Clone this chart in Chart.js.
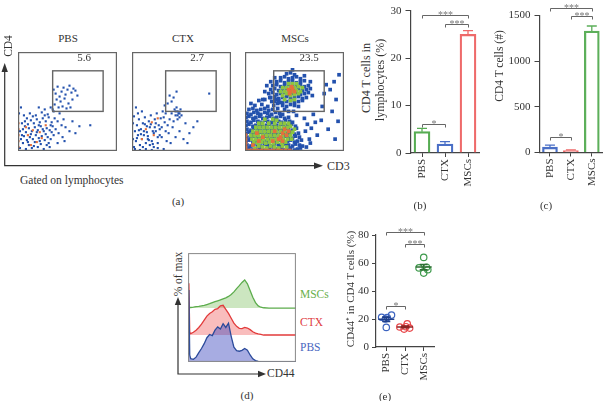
<!DOCTYPE html>
<html><head><meta charset="utf-8">
<script src="https://cdn.jsdelivr.net/npm/chart.js@4/dist/chart.umd.min.js"></script>
<style>
html,body{margin:0;padding:0;background:#fff;width:607px;height:401px;overflow:hidden;}
#wrap{position:relative;width:607px;height:401px;font-family:"Liberation Serif","Times New Roman",serif;color:#333;}
canvas{position:absolute;}
svg{position:absolute;left:0;top:0;}
.t{position:absolute;white-space:nowrap;transform:translate(-50%,-50%);font-size:11px;line-height:1;}
.l{transform:translate(0,-50%);}
.r{transform:translate(-50%,-50%) rotate(-90deg);}
</style></head><body>
<div id="wrap">
<svg width="607" height="401">
  <polyline points="4.7,70 4.7,165.7 316,165.7" fill="none" stroke="#333" stroke-width="1.2"/>
  <polygon points="4.7,63 1.5,72 7.9,72" fill="#333"/>
  <polygon points="323,165.7 314,162.5 314,168.9" fill="#333"/>
  <polyline points="178,304 178,374 259,374" fill="none" stroke="#333" stroke-width="1.2"/>
  <polygon points="178,297 174.8,305 181.2,305" fill="#333"/>
  <polygon points="266,374 258,370.8 258,377.2" fill="#333"/>
</svg>
<canvas id="fa1" width="107" height="107" style="left:14px;top:48px"></canvas>
<canvas id="fa2" width="107" height="107" style="left:128px;top:48px"></canvas>
<canvas id="fa3" width="107" height="107" style="left:241px;top:48px"></canvas>
<canvas id="cb" width="100" height="200" style="left:385px;top:0px"></canvas>
<canvas id="cc" width="102" height="200" style="left:505px;top:0px"></canvas>
<canvas id="cd" width="108" height="109" style="left:188px;top:253px"></canvas>
<canvas id="ce" width="90" height="180" style="left:355px;top:220px"></canvas>

<div class="t" style="left:68px;top:38px;font-size:11px">PBS</div>
<div class="t" style="left:183px;top:38px;font-size:11px">CTX</div>
<div class="t" style="left:295px;top:38px;font-size:11px">MSCs</div>
<div class="t" style="left:84px;top:57px;font-size:11px">5.6</div>
<div class="t" style="left:197px;top:57px;font-size:11px">2.7</div>
<div class="t" style="left:309px;top:57px;font-size:11px">23.5</div>
<div class="t r" style="left:9px;top:46px;font-size:11.5px">CD4</div>
<div class="t l" style="left:327px;top:166px;font-size:12px">CD3</div>
<div class="t l" style="left:20px;top:181px;font-size:11.5px">Gated on lymphocytes</div>
<div class="t" style="left:178px;top:201px;font-size:11px">(a)</div>

<div class="t r" style="left:366px;top:78px;font-size:12px">CD4 T cells in</div>
<div class="t r" style="left:380px;top:80px;font-size:12px">lymphocytes (%)</div>
<div class="t" style="left:420px;top:205px;font-size:11px">(b)</div>
<div class="t r" style="left:500px;top:66px;font-size:11.5px">CD4 T cells (#)</div>
<div class="t" style="left:546px;top:205px;font-size:11px">(c)</div>

<div class="t r" style="left:178.5px;top:274px;font-size:11.5px">% of max</div>
<div class="t l" style="left:267px;top:374px;font-size:11.5px">CD44</div>
<div class="t l" style="left:300px;top:295px;font-size:11.5px;color:#6ab04c">MSCs</div>
<div class="t l" style="left:300px;top:323px;font-size:11.5px;color:#e0403f">CTX</div>
<div class="t l" style="left:300px;top:348px;font-size:11.5px;color:#4a66c0">PBS</div>
<div class="t" style="left:247px;top:395px;font-size:11px">(d)</div>

<div class="t r" style="left:350px;top:289px;font-size:11px">CD44⁺ in CD4 T cells (%)</div>
<div class="t" style="left:385px;top:396px;font-size:11px">(e)</div>
</div>
<script>
// ---------------- data ----------------
const groups = ['PBS', 'CTX', 'MSCs'];

// (a) flow cytometry events: flat [CD3, CD4] pairs (0-100 display units)
const pbsBlue = [
 2,3, 5,8, 8,2, 11,6, 14,3, 17,9, 20,4, 23,7, 26,2, 29,6, 32,4,
 3,12, 6,15, 9,11, 12,14, 15,12, 18,16, 21,13, 24,15, 27,11, 30,14, 33,12, 36,16,
 2,20, 5,22, 8,19, 11,23, 14,20, 17,24, 20,21, 23,25, 26,20, 29,23, 32,21, 35,25, 38,22,
 4,28, 7,30, 10,27, 13,31, 16,28, 19,32, 22,29, 25,33, 28,30, 31,34, 34,29, 37,33, 40,30,
 6,36, 12,38, 18,36, 24,39, 30,37, 36,40, 42,38, 27,42, 33,44, 21,44,
 44,26, 46,32, 41,18, 45,14, 48,24, 52,20, 47,10, 40,8, 62,25, 73,26, 55,30, 58,18, 1,38, 3,44,
 10,9, 13,17, 16,5, 19,19, 22,10, 25,22, 28,17, 31,8, 34,19, 9,33, 15,35, 21,26, 27,36, 33,26, 4,16, 7,25,
 36,62, 38,58, 40,65, 42,55, 44,60, 46,64, 48,57, 50,62, 52,66, 54,59, 56,63, 58,61,
 39,52, 43,50, 47,53, 51,48, 55,52, 45,45, 49,43, 41,44, 37,47, 60,56, 35,42, 53,44
];
const pbsOrange = [0.5,4, 0.5,10, 0.5,16, 0.5,22, 0.5,28, 10,16, 15,21, 19,9, 24,13, 8,24, 13,6, 22,19, 28,26];

const ctxBlue = [
 2,4, 4,10, 6,16, 8,6, 10,12, 12,20, 14,8, 16,15, 18,24, 20,10, 22,18, 24,28, 26,14, 28,22,
 3,20, 5,26, 7,32, 9,22, 11,28, 13,34, 15,25, 17,30, 19,36, 21,20, 23,32, 25,38, 27,26, 29,33,
 31,40, 33,29, 3,2, 8,1, 14,2, 20,1, 26,3, 32,2, 1,12, 1,28, 2,35, 6,38, 10,40, 4,44,
 30,14, 34,20, 36,26, 38,32, 40,38, 42,30, 44,36, 46,40, 48,34, 45,44, 47,38, 49,42, 43,42,
 50,36, 46,32, 41,24, 37,18, 35,10, 39,8, 48,20, 54,28, 58,18, 62,24, 52,12, 66,30, 44,14,
 56,8, 12,16, 16,12, 18,6, 22,4, 24,20, 26,8, 28,16, 30,24, 32,34, 34,38,
 5,13, 9,17, 11,4, 15,19, 17,11, 19,27, 21,7, 23,24, 7,21, 13,27, 46,36, 44,40, 48,38,
 38,56, 42,54, 40,50, 45,60, 78,58, 36,48, 33,46
];
const ctxOrange = [20,29, 14,22, 22,16, 26,33, 10,12];

const mscBlue = [
 1,2, 4,3, 8,1, 11,2, 15,3, 18,1, 22,2, 25,3, 29,1, 32,2, 36,3, 39,1, 43,2, 46,3, 50,1, 53,2, 56,3,
 2,6, 6,5, 9,7, 13,6, 16,5, 20,7, 23,6, 27,5, 30,7, 34,6, 37,5, 41,7, 44,6, 48,5, 51,7, 55,6, 58,5,
 1,10, 4,11, 8,9, 11,10, 15,11, 18,9, 22,10, 25,11, 29,9, 32,10, 36,11, 39,9, 43,10, 46,11, 50,9, 53,10, 57,11,
 2,14, 6,13, 9,15, 13,14, 16,13, 20,15, 23,14, 27,13, 30,15, 34,14, 37,13, 41,15, 44,14, 48,13, 51,15, 55,14,
 1,18, 4,19, 8,17, 11,18, 15,19, 18,17, 22,18, 25,19, 29,17, 32,18, 36,19, 39,17, 43,18, 46,19, 50,17, 54,18,
 2,22, 6,21, 9,23, 13,22, 16,21, 20,23, 23,22, 27,21, 30,23, 34,22, 37,21, 41,23, 44,22, 48,21, 52,23,
 1,26, 4,27, 8,25, 11,26, 15,27, 18,25, 22,26, 25,27, 29,25, 32,26, 36,27, 39,25, 43,26, 47,27, 51,25,
 2,30, 6,29, 9,31, 13,30, 16,29, 20,31, 23,30, 27,29, 30,31, 34,30, 37,29, 41,31, 45,30, 48,29,
 1,34, 4,35, 8,33, 11,34, 15,35, 18,33, 22,34, 25,35, 29,33, 32,34, 36,35, 40,33, 44,34,
 2,38, 6,37, 9,39, 13,38, 16,37, 20,39, 23,38, 27,37, 31,39, 35,38, 38,37,
 4,42, 8,43, 12,41, 16,42, 20,43, 24,41, 28,42, 33,43,
 10,46, 17,47, 23,45, 29,46, 33,48, 27,50, 31,52, 35,49, 25,54,
 61,20, 63,27, 60,33, 65,12, 52,36, 49,40, 67,23, 71,29, 73,16, 77,31, 69,37, 62,4, 66,8, 40,42, 44,40, 6,48, 14,51, 20,52,
 38,46, 42,45, 46,47, 50,46, 54,45,
 30,50, 34,51, 38,49, 42,50, 46,51, 50,49, 54,50, 58,51,
 26,54, 30,55, 34,53, 38,54, 42,55, 46,53, 50,54, 54,55, 58,53, 62,54,
 24,58, 28,59, 32,57, 36,58, 40,59, 44,57, 48,58, 52,59, 56,57, 60,58, 64,59,
 26,62, 30,63, 34,61, 38,62, 42,63, 46,61, 50,62, 54,63, 58,61, 62,62, 66,63,
 28,66, 32,67, 36,65, 40,66, 44,67, 48,65, 52,66, 56,67, 60,65, 64,66,
 32,70, 36,71, 40,69, 44,70, 48,71, 52,69, 56,70, 60,71,
 36,74, 40,75, 44,73, 48,74, 52,75, 56,73, 42,78, 46,79, 50,77,
 20,60, 22,66, 68,56, 66,70, 60,76, 30,74, 48,82, 26,70, 18,52,
 90,70, 86,62, 92,52, 88,40, 94,30, 84,22, 82,67, 78,45, 95,77, 91,12, 80,58
];
const mscGreen = [
 10,3, 14,5, 18,4, 22,3, 26,5, 30,4, 34,3, 38,5, 42,4,
 9,9, 13,8, 17,9, 21,8, 25,9, 29,8, 33,9, 37,8, 41,9,
 7,12, 11,12, 15,12, 19,12, 23,12, 27,12, 31,12, 35,12, 39,12, 43,12, 47,12,
 6,16, 10,16, 14,16, 18,16, 22,16, 26,16, 30,16, 34,16, 38,16, 42,16, 46,16, 48,19,
 8,20, 12,20, 16,20, 20,20, 24,20, 28,20, 32,20, 36,20, 40,20, 44,20, 50,22,
 11,24, 15,24, 19,24, 23,24, 27,24, 31,24, 35,24, 39,24, 43,24, 46,25,
 14,28, 18,28, 24,28, 30,28, 36,28, 40,28, 44,28, 20,32, 28,32, 32,31,
 38,56, 42,58, 46,56, 50,57, 54,58, 40,60, 44,60, 48,60, 52,61, 56,60, 38,64, 42,64,
 46,64, 50,64, 54,65, 44,68, 48,68, 52,68, 40,52, 46,51, 50,52, 36,60, 58,64
];
const mscOrange = [
 1,0.5, 5,0.5, 9,0.5, 13,0.5, 17,0.5, 21,0.5, 25,0.5, 29,0.5, 33,0.5, 37,0.5, 41,0.5, 45,0.5,
 0.5,4, 0.5,8, 0.5,12, 0.5,16,
 36,14, 38,18, 40,22, 34,12, 42,16, 14,10, 18,14, 30,20, 12,18, 38,10, 44,20, 28,10, 8,6,
 44,62, 46,60, 48,63, 45,58, 50,60, 47,65
];
// gates [x1, y1, x2, y2]
const gatePBS = [35, 40, 86, 81];
const gateCTX = [34, 40, 85, 81];
const gateMSC = [29, 40, 80, 81];

// (b) % CD4 T cells in lymphocytes
const pctMean = [4.5, 1.9, 25.0];
const pctSem = [0.7, 0.5, 0.8];
const sigB = [[0, 2, 29.1, '***'], [1, 2, 27.2, '***'], [0, 1, 6.1, '*']];
// (c) CD4 T cell counts
const cntMean = [58, 22, 1330];
const cntSem = [22, 6, 55];
const sigC = [[0, 2, 1580, '***'], [1, 2, 1495, '***'], [0, 1, 165, '*']];

// (d) CD44 histograms (% of max, in lane units)
const histX = [0,0.8,1.6,2.5,5,7.5,10,12.5,15,17.5,20,22.5,25,27.5,30,32.5,35,37.5,40,42.5,45,47.5,50,52.5,55,57.5,60,62.5,65,67.5,70,75,80,90,100];
const histPBS = [0.3,2.67,0.25,0.12,0.1,0.18,0.35,0.5,0.68,0.9,1.02,0.98,1.18,1.3,1.22,1.42,1.28,1.44,0.95,0.55,0.42,0.4,0.43,0.5,0.44,0.26,0.12,0.05,0.02,0,0,0,0,0,0];
const histCTX = [0.1,1.92,0.1,0.05,0.1,0.18,0.28,0.4,0.55,0.7,0.8,0.86,0.95,0.98,1.08,1.1,0.95,0.8,0.62,0.44,0.32,0.25,0.24,0.28,0.26,0.2,0.12,0.07,0.04,0.02,0,0,0,0,0];
const histMSC = [0,0.02,0.02,0.02,0.03,0.05,0.06,0.08,0.1,0.13,0.16,0.2,0.24,0.27,0.3,0.34,0.38,0.43,0.5,0.6,0.72,0.83,0.95,1.04,0.9,0.65,0.4,0.2,0.08,0.03,0.01,0,0,0,0];

// (e) CD44+ in CD4 T cells (%)
const cd44PBS = [21.2, 21, 22.8, 14, 20];
const cd44CTX = [14.3, 16.5, 13.5, 12.8, 14.5];
const cd44MSC = [64, 56.5, 55.2, 52.8, 57];
const jitPBS = [-0.25, 0.05, 0.28, 0, -0.05];
const jitCTX = [-0.28, 0.12, 0.25, -0.05, 0.05];
const jitMSC = [0, -0.25, 0.22, 0, 0.15];
const sigE = [[0, 2, 82.4, '***'], [1, 2, 73.6, '***'], [0, 1, 29.3, '*']];

// ---------------- rendering ----------------
Chart.defaults.font.family = '"Liberation Serif", "Times New Roman", serif';
Chart.defaults.color = '#333';
const base = {responsive: false, animation: false, devicePixelRatio: 1, events: []};
const noPlug = {legend: {display: false}, tooltip: {enabled: false}};
const pts = a => { const r = []; for (let i = 0; i < a.length; i += 2) r.push({x: a[i], y: a[i + 1]}); return r; };

const framePlugin = {
  id: 'frame',
  afterDatasetsDraw(chart, args, o) {
    const {ctx, chartArea: a, scales: {x, y}} = chart;
    ctx.save();
    ctx.strokeStyle = o.color || '#666';
    ctx.lineWidth = o.width || 1.2;
    ctx.strokeRect(a.left + 0.6, a.top + 0.6, a.width - 1.2, a.height - 1.2);
    if (o.gate) {
      const g = o.gate;
      const x1 = x.getPixelForValue(g[0]), x2 = x.getPixelForValue(g[2]);
      const y1 = y.getPixelForValue(g[1]), y2 = y.getPixelForValue(g[3]);
      ctx.lineWidth = 1.4; ctx.strokeStyle = '#666';
      ctx.strokeRect(x1, y2, x2 - x1, y1 - y2);
    }
    ctx.restore();
  }
};

function flow(id, layers, gate) {
  new Chart(document.getElementById(id), {
    type: 'scatter',
    data: {datasets: layers.map(l => ({data: pts(l[0]), backgroundColor: l[1], pointStyle: 'rect', pointRadius: l[2], borderWidth: 0}))},
    options: {...base, layout: {padding: 0},
      scales: {x: {display: false, min: 0, max: 100}, y: {display: false, min: 0, max: 100}},
      plugins: {...noPlug, frame: {gate}}},
    plugins: [framePlugin]
  });
}
const cBlue = '#2351ad', cGreen = '#8cc63f', cOrange = '#e4703c';
flow('fa1', [[pbsOrange, cOrange, 1.5], [pbsBlue, cBlue, 1.5]], gatePBS);
flow('fa2', [[ctxOrange, cOrange, 1.5], [ctxBlue, cBlue, 1.5]], gateCTX);
flow('fa3', [[mscOrange, cOrange, 2.6], [mscGreen, cGreen, 2.6], [mscBlue, cBlue, 2.6]], gateMSC);

const bracketPlugin = {
  id: 'brackets',
  afterDatasetsDraw(chart, args, o) {
    const {ctx, scales: {x, y}} = chart;
    ctx.save();
    ctx.strokeStyle = '#666'; ctx.fillStyle = '#777'; ctx.lineWidth = 1;
    ctx.font = '10px "Liberation Serif", serif'; ctx.textAlign = 'center'; ctx.textBaseline = 'alphabetic';
    o.list.forEach(([a, b, v, s]) => {
      const xa = Math.round(x.getPixelForValue(a)) + 0.5, xb = Math.round(x.getPixelForValue(b)) + 0.5;
      const yy = Math.round(y.getPixelForValue(v)) + 0.5;
      ctx.beginPath();
      ctx.moveTo(xa, yy + 3); ctx.lineTo(xa, yy); ctx.lineTo(xb, yy); ctx.lineTo(xb, yy + 3);
      ctx.stroke();
      ctx.fillText(s, (xa + xb) / 2, yy + 2.5);
    });
    ctx.restore();
  }
};
const errPlugin = {
  id: 'errbars',
  afterDatasetsDraw(chart, args, o) {
    const {ctx, scales: {y}} = chart;
    const meta = chart.getDatasetMeta(0), vals = chart.data.datasets[0].data;
    ctx.save(); ctx.lineWidth = 1.3;
    meta.data.forEach((bar, i) => {
      const yv = y.getPixelForValue(vals[i]), yt = y.getPixelForValue(vals[i] + o.sems[i]);
      ctx.strokeStyle = o.colors[i];
      ctx.beginPath();
      ctx.moveTo(bar.x, yv); ctx.lineTo(bar.x, yt);
      ctx.moveTo(bar.x - 5, yt); ctx.lineTo(bar.x + 5, yt);
      ctx.stroke();
    });
    ctx.restore();
  }
};
const tickFont = {size: 11, family: '"Liberation Serif", serif'};
function bars(id, vals, sems, colors, max, step, yW, xH, pad, thick, sig) {
  new Chart(document.getElementById(id), {
    type: 'bar',
    data: {labels: groups, datasets: [{data: vals, borderColor: colors, backgroundColor: 'rgba(255,255,255,0)', borderWidth: 1.6, barThickness: thick}]},
    options: {...base, layout: {padding: pad},
      scales: {
        x: {grid: {drawOnChartArea: false, offset: false, tickLength: 4, color: '#444'}, border: {color: '#444', width: 1.2},
            ticks: {maxRotation: 90, minRotation: 90, font: tickFont, color: '#333', padding: 2},
            afterFit: s => { s.height = xH; }},
        y: {min: 0, max: max, ticks: {stepSize: step, font: tickFont, color: '#333', padding: 4, callback: v => String(v)},
            grid: {drawOnChartArea: false, tickLength: 5, color: '#444'}, border: {color: '#444', width: 1.2},
            afterFit: s => { s.width = yW; }}
      },
      plugins: {...noPlug, errbars: {sems, colors}, brackets: {list: sig}}},
    plugins: [errPlugin, bracketPlugin]
  });
}
bars('cb', pctMean, pctSem, ['#56ac52', '#4a6fc6', '#ee6a6a'], 30, 10, 25.5, 47, {top: 10.7, right: 5.5, left: 0, bottom: 0}, 16, sigB);
bars('cc', cntMean, cntSem, ['#4a6fc6', '#ee6a6a', '#5caf5a'], 1500, 500, 34.5, 47.5, {top: 15.5, right: 0, left: 0, bottom: 0}, 15, sigC);

// (d) histograms
const lanes = [[histPBS, 0, '#2b4a9b', 'rgba(60,70,190,0.45)'], [histCTX, 1, '#e23b3b', 'rgba(240,90,90,0.4)'], [histMSC, 2, '#5cac4c', 'rgba(120,190,90,0.38)']];
new Chart(document.getElementById('cd'), {
  type: 'line',
  data: {datasets: lanes.map(([h, off, lc, fc]) => ({
    data: histX.map((x, i) => ({x, y: off + h[i]})),
    borderColor: lc, backgroundColor: fc, borderWidth: 1.3, pointRadius: 0, tension: 0, fill: {value: off}
  }))},
  options: {...base, layout: {padding: 0},
    scales: {x: {type: 'linear', display: false, min: 0, max: 100}, y: {display: false, min: 0, max: 4.04}},
    plugins: {...noPlug, frame: {color: '#888', width: 1}}},
  plugins: [framePlugin]
});

// (e) dot plot with mean ± SEM
const eSets = [cd44PBS, cd44CTX, cd44MSC], eJit = [jitPBS, jitCTX, jitMSC];
const eCol = ['#3b63c0', '#e8474a', '#3e9a4c'], eDark = ['#1f3f8a', '#8a2424', '#2f6f35'];
const meanPlugin = {
  id: 'meanSem',
  afterDatasetsDraw(chart, args, o) {
    const {ctx, scales: {x, y}} = chart;
    ctx.save(); ctx.lineWidth = 1.6;
    eSets.forEach((vals, g) => {
      const n = vals.length, m = vals.reduce((s, v) => s + v, 0) / n;
      const se = Math.sqrt(vals.reduce((s, v) => s + (v - m) ** 2, 0) / (n - 1)) / Math.sqrt(n);
      const cx = x.getPixelForValue(g), ym = y.getPixelForValue(m), yt = y.getPixelForValue(m + se), yb = y.getPixelForValue(m - se);
      ctx.strokeStyle = eDark[g];
      ctx.beginPath();
      ctx.moveTo(cx - 8, ym); ctx.lineTo(cx + 8, ym);
      ctx.moveTo(cx, yt); ctx.lineTo(cx, yb);
      ctx.moveTo(cx - 4, yt); ctx.lineTo(cx + 4, yt);
      ctx.moveTo(cx - 4, yb); ctx.lineTo(cx + 4, yb);
      ctx.stroke();
    });
    ctx.restore();
  }
};
new Chart(document.getElementById('ce'), {
  type: 'scatter',
  data: {datasets: eSets.map((vals, g) => ({
    data: vals.map((v, i) => ({x: g + eJit[g][i], y: v})),
    pointStyle: 'circle', pointRadius: 3.2, borderColor: eCol[g], backgroundColor: 'rgba(255,255,255,0)', borderWidth: 1.2
  }))},
  options: {...base, layout: {padding: {top: 15, right: 11, left: 0, bottom: 0}},
    scales: {
      x: {type: 'linear', min: -0.55, max: 2.55,
          afterBuildTicks: s => { s.ticks = [0, 1, 2].map(v => ({value: v})); },
          ticks: {callback: v => groups[v], maxRotation: 90, minRotation: 90, font: tickFont, color: '#333', padding: 2},
          grid: {drawOnChartArea: false, tickLength: 4, color: '#444'}, border: {color: '#444', width: 1.2},
          afterFit: s => { s.height = 53; }},
      y: {min: 0, max: 80, ticks: {stepSize: 20, font: tickFont, color: '#333', padding: 3},
          grid: {drawOnChartArea: false, tickLength: 4, color: '#444'}, border: {color: '#444', width: 1.2},
          afterFit: s => { s.width = 21; }}
    },
    plugins: {...noPlug, brackets: {list: sigE}}},
  plugins: [meanPlugin, bracketPlugin]
});
</script>
</body></html>
